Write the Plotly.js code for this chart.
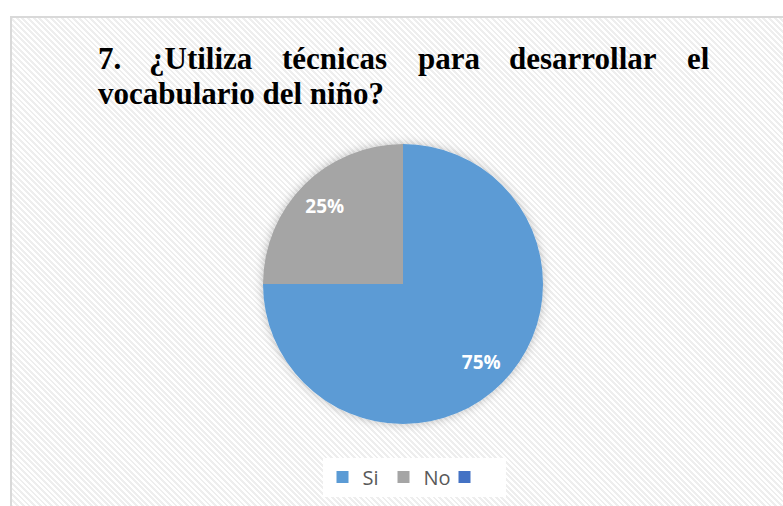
<!DOCTYPE html>
<html>
<head>
<meta charset="utf-8">
<script src="https://cdn.plot.ly/plotly-3.0.1.min.js"></script>
<style>
  html, body { margin: 0; padding: 0; background: #ffffff; width: 783px; height: 506px; overflow: hidden; }
  #frame {
    position: absolute; left: 10px; top: 16px; width: 800px; height: 520px;
    border-left: 2px solid #d9d9d9; border-top: 2px solid #d9d9d9;
    background: repeating-linear-gradient(45deg, #ffffff 0px, #ffffff 2px, #eeeeee 2px, #eeeeee 4px);
  }
  #chart { position: absolute; left: 0; top: 0; width: 783px; height: 506px; }
</style>
</head>
<body>
<div id="frame"></div>
<div id="chart"></div>
<script>
// ---- data ----
const labels = ['Si', 'No', ' '];
const values = [75, 25, 0];
const sliceColors = ['#5B9BD5', '#A5A5A5', '#4472C4'];
const sliceText = ['%{percent:.0%}', '%{percent:.0%}', ''];
const titleLine1Words = ['7.', '¿Utiliza', 'técnicas', 'para', 'desarrollar', 'el'];
const titleLine2 = 'vocabulario del niño?';

// ---- layout helpers ----
const W = 783, H = 506;
const px = x => x / W;
const py = y => 1 - y / H;
const wordX = [96, 147, 280, 416, 507, 685];
const titleFont = { family: 'Liberation Serif, Times New Roman, serif', size: 31, color: '#000000' };
const pieDomain = { x: [px(263), px(543)], y: [py(424), py(144)] };

const annotations = titleLine1Words.map((w, i) => ({
  text: '<b>' + w + '</b>', xref: 'paper', yref: 'paper',
  x: px(wordX[i]), y: py(58), xanchor: 'left', yanchor: 'middle',
  showarrow: false, font: titleFont
}));
annotations.push({
  text: '<b>' + titleLine2 + '</b>', xref: 'paper', yref: 'paper',
  x: px(wordX[0]), y: py(93), xanchor: 'left', yanchor: 'middle',
  showarrow: false, font: titleFont
});

// main pie (slices, legend)
const pieTrace = {
  type: 'pie',
  labels: labels,
  values: values,
  sort: false,
  direction: 'clockwise',
  rotation: 0,
  marker: { colors: sliceColors, line: { width: 0 } },
  textinfo: 'none',
  hoverinfo: 'none',
  domain: pieDomain
};

// transparent ring carrying the data labels further out, as in the reference
const labelTrace = {
  type: 'pie',
  labels: labels,
  values: values,
  sort: false,
  direction: 'clockwise',
  rotation: 0,
  hole: 0.58,
  showlegend: false,
  marker: { colors: ['rgba(0,0,0,0)', 'rgba(0,0,0,0)', 'rgba(0,0,0,0)'], line: { width: 0 } },
  texttemplate: sliceText,
  textposition: 'inside',
  insidetextorientation: 'horizontal',
  textfont: { family: 'Open Sans, sans-serif', size: 19, color: '#ffffff', weight: 'bold' },
  hoverinfo: 'none',
  domain: pieDomain
};

const layout = {
  width: W, height: H,
  margin: { l: 0, r: 0, t: 0, b: 0 },
  paper_bgcolor: 'rgba(0,0,0,0)',
  plot_bgcolor: 'rgba(0,0,0,0)',
  showlegend: true,
  legend: {
    orientation: 'h', x: px(414), xanchor: 'center', y: py(477), yanchor: 'middle',
    bgcolor: '#ffffff', font: { family: 'Open Sans, sans-serif', size: 20, color: '#595959' },
    entrywidth: 16,
    itemclick: false, itemdoubleclick: false
  },
  annotations: annotations
};

Plotly.newPlot('chart', [pieTrace, labelTrace], layout, { displayModeBar: false, staticPlot: true }).then(gd => {
  const svg = gd.querySelector('svg.main-svg');
  const ns = 'http://www.w3.org/2000/svg';
  const defs = svg.querySelector('defs');
  const f = document.createElementNS(ns, 'filter');
  f.setAttribute('id', 'pieShadow');
  f.setAttribute('x', '-20%'); f.setAttribute('y', '-20%');
  f.setAttribute('width', '140%'); f.setAttribute('height', '140%');
  const ds = document.createElementNS(ns, 'feDropShadow');
  ds.setAttribute('dx', '0'); ds.setAttribute('dy', '0');
  ds.setAttribute('stdDeviation', '5');
  ds.setAttribute('flood-color', '#000000'); ds.setAttribute('flood-opacity', '0.25');
  f.appendChild(ds);
  defs.appendChild(f);
  const slices = gd.querySelector('.pielayer .trace');
  if (slices) slices.setAttribute('filter', 'url(#pieShadow)');
});
</script>
</body>
</html>
